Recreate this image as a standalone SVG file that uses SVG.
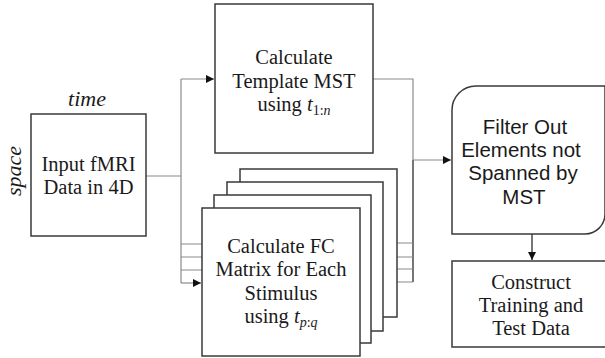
<svg xmlns="http://www.w3.org/2000/svg" width="605" height="358" viewBox="0 0 605 358">
<defs>
<style>
.box{fill:#fff;stroke:#3a3a3a;stroke-width:1.5}
.ln{fill:none;stroke:#8a8a8a;stroke-width:1.2}
.dk{fill:none;stroke:#1a1a1a;stroke-width:1.2}
.t{font-family:"Liberation Serif","Times New Roman",serif;font-size:20.5px;fill:#1a1a1a;text-anchor:middle}
.s{font-family:"Liberation Sans",Arial,sans-serif;font-size:20.5px;fill:#1a1a1a;text-anchor:middle}
.i{font-style:italic}
.sub{font-size:14px}
</style>
<marker id="ah" viewBox="0 0 10 10" refX="10" refY="5" markerWidth="8" markerHeight="8" markerUnits="userSpaceOnUse" orient="auto">
<path d="M0,0L10,5L0,10z" fill="#111"/>
</marker>
</defs>
<rect width="605" height="358" fill="#fff"/>
<g id="connectors">
<path class="ln" d="M146,176H181"/>
<path class="ln" d="M181,79V283"/>
<path class="ln" d="M181,79H214" marker-end="url(#ah)"/>
<path class="ln" d="M181,244H240M181,257H227M181,270H214"/>
<path class="ln" d="M181,283H201" marker-end="url(#ah)"/>
<path class="ln" d="M373,79H413V160"/>
<path class="dk" d="M413,160V282"/>
<path class="ln" d="M397,243H413M383,257H413M371,269H413M360,282H413"/>
<path class="ln" d="M413,160H451" marker-end="url(#ah)"/>
<path class="dk" d="M532,234V260" marker-end="url(#ah)"/>
</g>
<g id="labels">
<text class="t i" x="87" y="106" style="font-size:22px">time</text>
<text class="t i" transform="translate(21,171) rotate(-90)" style="font-size:22px">space</text>
</g>
<g id="input">
<rect class="box" x="31" y="114" width="115" height="122"/>
<text class="t" x="88.5" y="171">Input fMRI</text>
<text class="t" x="88.5" y="194">Data in 4D</text>
</g>
<g id="template">
<rect class="box" x="215" y="4" width="158" height="149"/>
<text class="t" x="294" y="64">Calculate</text>
<text class="t" x="294" y="88">Template MST</text>
<text class="t" x="294" y="111">using <tspan class="i">t</tspan><tspan class="sub" dy="4">1:<tspan class="i">n</tspan></tspan></text>
</g>
<g id="fc-stack">
<rect class="box" x="240" y="169" width="157" height="148"/>
<rect class="box" x="227" y="182" width="156" height="149"/>
<rect class="box" x="214" y="195" width="157" height="148"/>
</g>
<g id="fc">
<rect class="box" x="202" y="208" width="158" height="148"/>
<text class="t" x="281" y="253">Calculate FC</text>
<text class="t" x="281" y="276">Matrix for Each</text>
<text class="t" x="281" y="300">Stimulus</text>
<text class="t" x="281" y="323">using <tspan class="i">t</tspan><tspan class="sub" dy="4"><tspan class="i">p</tspan>:<tspan class="i">q</tspan></tspan></text>
</g>
<g id="filter">
<path class="box" d="M452,110A24,24 0 0 1 476,86H605V214A20,20 0 0 1 585,234H452Z"/>
<text class="s" x="525" y="134">Filter Out</text>
<text class="s" x="521" y="157">Elements not</text>
<text class="s" x="523" y="180">Spanned by</text>
<text class="s" x="524" y="204">MST</text>
</g>
<g id="construct">
<rect class="box" x="452" y="261" width="160" height="86"/>
<text class="t" x="531" y="289">Construct</text>
<text class="t" x="531" y="312">Training and</text>
<text class="t" x="531" y="335">Test Data</text>
</g>
</svg>
